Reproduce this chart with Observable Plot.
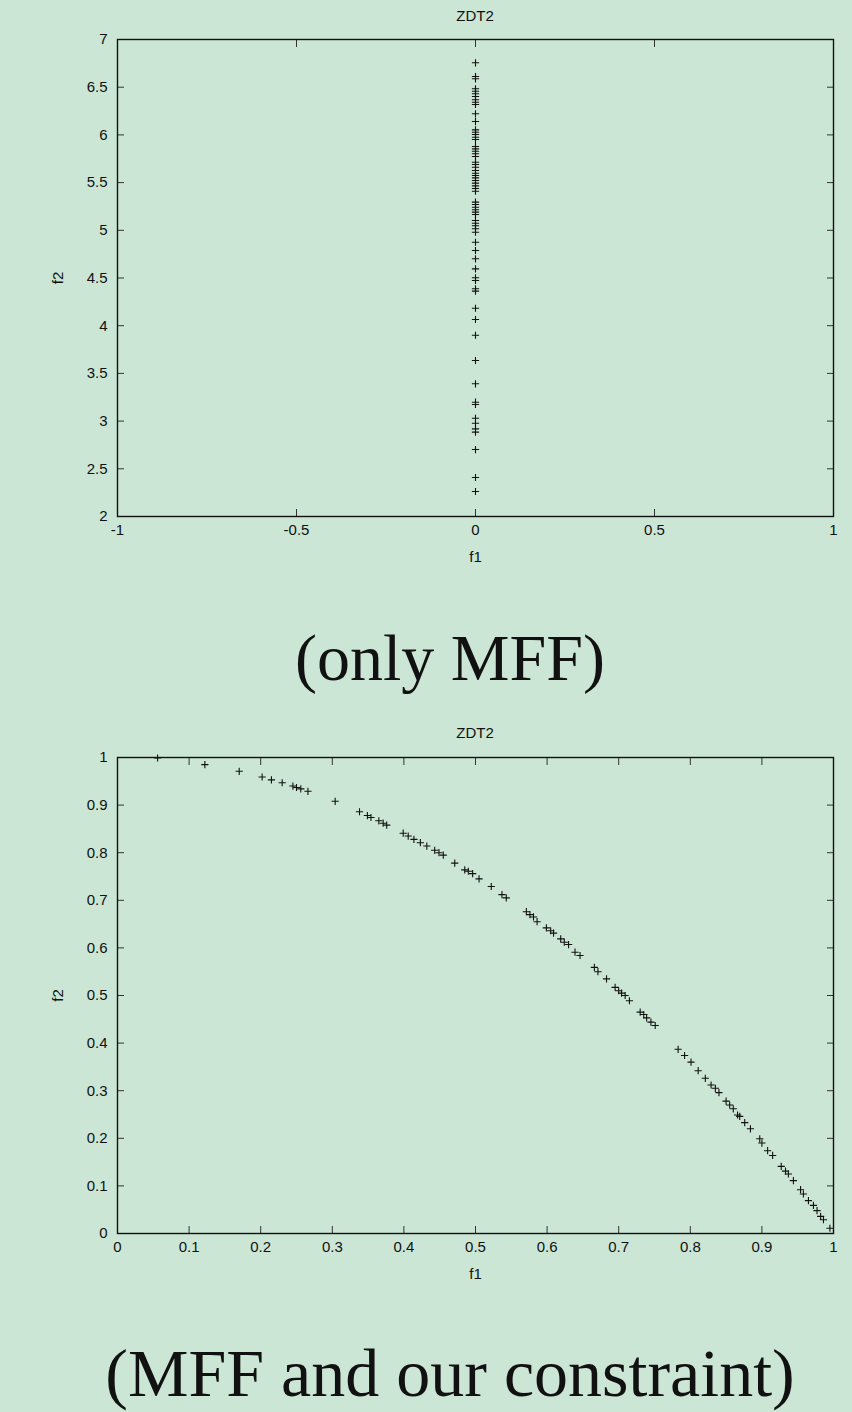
<!DOCTYPE html>
<html>
<head>
<meta charset="utf-8">
<script src="https://cdn.jsdelivr.net/npm/d3@7"></script>
<script src="https://cdn.jsdelivr.net/npm/@observablehq/plot@0.6"></script>
<style>
html, body { margin: 0; padding: 0; background: #cce6d6; }
body { width: 852px; height: 1412px; position: relative; overflow: hidden; font-family: "Liberation Sans", Arial, sans-serif; color: #111; }
.plot { position: absolute; left: 0; }
.title { position: absolute; left: 117px; width: 716px; text-align: center; font-size: 15px; line-height: 15px; }
.caption { position: absolute; left: 0; width: 900px; text-align: center; font-family: "Liberation Serif", serif; line-height: 1; color: #111; }
</style>
</head>
<body>
<div class="title" id="t1" style="top:8px">ZDT2</div>
<div class="plot" id="p1" style="top:0px"></div>
<div class="caption" style="top:625px; font-size:66px">(only MFF)</div>
<div class="title" id="t2" style="top:725px">ZDT2</div>
<div class="plot" id="p2" style="top:700px"></div>
<div class="caption" style="top:1339px; font-size:68px">(MFF and our constraint)</div>
<script>
// ---- data ----
const title1 = "ZDT2";
const title2 = "ZDT2";
const topXTicks = [-1, -0.5, 0, 0.5, 1];
const topYTicks = [2, 2.5, 3, 3.5, 4, 4.5, 5, 5.5, 6, 6.5, 7];
const botXTicks = [0, 0.1, 0.2, 0.3, 0.4, 0.5, 0.6, 0.7, 0.8, 0.9, 1];
const botYTicks = [0, 0.1, 0.2, 0.3, 0.4, 0.5, 0.6, 0.7, 0.8, 0.9, 1];

// only MFF: all points at f1 = 0
const topF2 = [6.756, 6.612, 6.588, 6.483, 6.458, 6.431, 6.403, 6.368, 6.343, 6.319,
  6.221, 6.140, 6.053, 6.028, 6.004, 5.976, 5.952, 5.878, 5.854, 5.829,
  5.802, 5.774, 5.714, 5.690, 5.661, 5.627, 5.598, 5.574, 5.550, 5.522,
  5.494, 5.466, 5.438, 5.410, 5.295, 5.270, 5.242, 5.215, 5.190, 5.166,
  5.103, 5.074, 5.047, 5.016, 4.980, 4.875, 4.788, 4.701, 4.596, 4.502,
  4.474, 4.387, 4.362, 4.183, 4.065, 3.900, 3.635, 3.391, 3.198, 3.174,
  3.030, 2.978, 2.919, 2.884, 2.702, 2.409, 2.262];
const topF1 = [0, 0, 0, 0, 0, 0, 0, 0, 0, 0,
  0, 0, 0, 0, 0, 0, 0, 0, 0, 0,
  0, 0, 0, 0, 0, 0, 0, 0, 0, 0,
  0, 0, 0, 0, 0, 0, 0, 0, 0, 0,
  0, 0, 0, 0, 0, 0, 0, 0, 0, 0,
  0, 0, 0, 0, 0, 0, 0, 0, 0, 0,
  0, 0, 0, 0, 0, 0, 0];

// MFF and our constraint
const botF1 = [0.056, 0.122, 0.170, 0.202, 0.215, 0.230, 0.245, 0.250, 0.256, 0.266,
  0.304, 0.338, 0.349, 0.354, 0.365, 0.371, 0.376, 0.399, 0.406, 0.414,
  0.423, 0.432, 0.443, 0.449, 0.455, 0.471, 0.485, 0.490, 0.496, 0.505,
  0.522, 0.537, 0.543, 0.571, 0.576, 0.581, 0.586, 0.599, 0.605, 0.609,
  0.619, 0.624, 0.630, 0.639, 0.646, 0.666, 0.671, 0.683, 0.695, 0.700,
  0.704, 0.709, 0.715, 0.730, 0.735, 0.739, 0.745, 0.751, 0.783, 0.792,
  0.801, 0.811, 0.821, 0.829, 0.835, 0.840, 0.850, 0.855, 0.860, 0.866,
  0.869, 0.876, 0.884, 0.897, 0.900, 0.908, 0.915, 0.927, 0.933, 0.937,
  0.944, 0.954, 0.958, 0.965, 0.972, 0.977, 0.982, 0.986, 0.995];
const botF2 = [0.999, 0.985, 0.971, 0.959, 0.953, 0.947, 0.940, 0.937, 0.934, 0.929,
  0.908, 0.886, 0.878, 0.874, 0.867, 0.862, 0.858, 0.841, 0.835, 0.828,
  0.821, 0.814, 0.805, 0.800, 0.795, 0.778, 0.764, 0.761, 0.756, 0.745,
  0.729, 0.712, 0.705, 0.676, 0.670, 0.665, 0.655, 0.642, 0.636, 0.631,
  0.619, 0.612, 0.607, 0.591, 0.584, 0.559, 0.550, 0.535, 0.517, 0.510,
  0.505, 0.500, 0.489, 0.465, 0.460, 0.453, 0.444, 0.437, 0.387, 0.374,
  0.360, 0.342, 0.326, 0.312, 0.305, 0.296, 0.278, 0.270, 0.262, 0.249,
  0.246, 0.233, 0.220, 0.199, 0.190, 0.174, 0.164, 0.141, 0.131, 0.125,
  0.111, 0.092, 0.083, 0.069, 0.059, 0.048, 0.036, 0.029, 0.011];

document.getElementById("t1").textContent = title1;
document.getElementById("t2").textContent = title2;

// gnuplot-style "+" point
const plusSymbol = {
  draw(ctx, size) {
    const r = Math.sqrt(size / Math.PI);
    ctx.moveTo(-r, 0); ctx.lineTo(r, 0);
    ctx.moveTo(0, -r); ctx.lineTo(0, r);
  }
};

const fmt = d => String(d);
const blank = () => "";
const TICK = -7;
const tickColor = "#333";

function chart({xDomain, yDomain, xTicks, yTicks, xs, ys, height, marginTop, marginBottom}) {
  const idx = d3.range(xs.length);
  return Plot.plot({
    width: 852,
    height,
    marginLeft: 117,
    marginRight: 19,
    marginTop,
    marginBottom,
    style: {background: "transparent", fontFamily: "'Liberation Sans', Arial, sans-serif", fontSize: "15px", color: "#111", overflow: "visible"},
    x: {domain: xDomain},
    y: {domain: yDomain},
    marks: [
      Plot.axisX(xTicks, {anchor: "bottom", tickSize: 0, tickPadding: 8, tickFormat: fmt, label: "f1", labelAnchor: "center", labelArrow: "none", labelOffset: 45, fontSize: 15}),
      Plot.axisX(xTicks, {anchor: "bottom", tickSize: TICK, tickFormat: blank, label: null, stroke: tickColor}),
      Plot.axisX(xTicks, {anchor: "top", tickSize: TICK, tickFormat: blank, label: null, stroke: tickColor}),
      Plot.axisY(yTicks, {anchor: "left", tickSize: 0, tickPadding: 10, tickFormat: fmt, label: "f2", labelAnchor: "center", labelArrow: "none", labelOffset: 65, fontSize: 15}),
      Plot.axisY(yTicks, {anchor: "left", tickSize: TICK, tickFormat: blank, label: null, stroke: tickColor}),
      Plot.axisY(yTicks, {anchor: "right", tickSize: TICK, tickFormat: blank, label: null, stroke: tickColor}),
      Plot.dot(idx, {x: i => xs[i], y: i => ys[i], symbol: plusSymbol, r: 3.6, fill: "none", stroke: "#111", strokeWidth: 1.1}),
      Plot.frame({stroke: "#111", strokeWidth: 1.4})
    ]
  });
}

document.getElementById("p1").append(chart({
  xDomain: [-1, 1], yDomain: [2, 7], xTicks: topXTicks, yTicks: topYTicks,
  xs: topF1, ys: topF2, height: 600, marginTop: 39, marginBottom: 84
}));
document.getElementById("p2").append(chart({
  xDomain: [0, 1], yDomain: [0, 1], xTicks: botXTicks, yTicks: botYTicks,
  xs: botF1, ys: botF2, height: 600, marginTop: 57, marginBottom: 67
}));
</script>
</body>
</html>
